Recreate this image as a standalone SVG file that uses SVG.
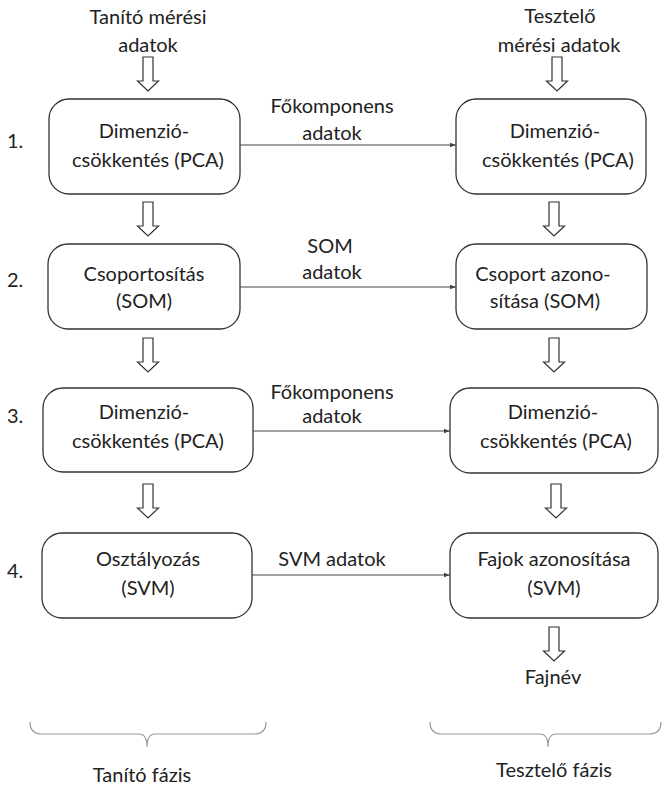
<svg xmlns="http://www.w3.org/2000/svg" width="663" height="785" viewBox="0 0 663 785">
<defs>
<style>
text{font-family:Lato,"Open Sans","Liberation Sans",sans-serif;font-size:20px;fill:#222;text-anchor:middle}
.box{fill:#fff;stroke:#333;stroke-width:1.3}
.conn{stroke:#444;stroke-width:1;fill:none}
.harrow{fill:#fff;stroke:#333;stroke-width:1.2;stroke-linejoin:miter}
.brace{fill:none;stroke:#999;stroke-width:1.2}
.num{text-anchor:start}
</style>
<marker id="ah" viewBox="0 0 8 8" refX="8" refY="4" markerWidth="6" markerHeight="6" orient="auto" markerUnits="userSpaceOnUse">
<path d="M0,1 L8,4 L0,7 Z" fill="#444"/>
</marker>
<path id="ha" d="M-5,0 H5 V24 H10.5 L0,34 L-10.5,24 H-5 Z"/>
</defs>
<rect width="663" height="785" fill="#fff"/>

<g id="input-train">
<text x="148" y="24">Tanító mérési</text>
<text x="148" y="52">adatok</text>
</g>
<g id="input-test">
<text x="560" y="23">Tesztelő</text>
<text x="559" y="52">mérési adatok</text>
</g>

<g id="numbers">
<text class="num" x="7" y="148">1.</text>
<text class="num" x="7" y="287">2.</text>
<text class="num" x="7" y="423">3.</text>
<text class="num" x="7" y="578">4.</text>
</g>

<g id="train1">
<rect class="box" x="49" y="99" width="191" height="95" rx="20"/>
<text x="144" y="138">Dimenzió-</text>
<text x="148" y="167">csökkentés (PCA)</text>
</g>
<g id="test1">
<rect class="box" x="456" y="99" width="190" height="95" rx="20"/>
<text x="555" y="138">Dimenzió-</text>
<text x="558" y="167">csökkentés (PCA)</text>
</g>
<g id="train2">
<rect class="box" x="48" y="244" width="192" height="85" rx="20"/>
<text x="144" y="281">Csoportosítás</text>
<text x="144" y="308">(SOM)</text>
</g>
<g id="test2">
<rect class="box" x="456" y="244" width="191" height="85" rx="20"/>
<text x="543" y="281">Csoport azono-</text>
<text x="545" y="308">sítása (SOM)</text>
</g>
<g id="train3">
<rect class="box" x="43" y="388" width="210" height="84" rx="20"/>
<text x="144" y="419">Dimenzió-</text>
<text x="148" y="448">csökkentés (PCA)</text>
</g>
<g id="test3">
<rect class="box" x="450" y="388" width="208" height="85" rx="20"/>
<text x="553" y="419">Dimenzió-</text>
<text x="556" y="448">csökkentés (PCA)</text>
</g>
<g id="train4">
<rect class="box" x="42" y="533" width="210" height="85" rx="20"/>
<text x="148" y="566">Osztályozás</text>
<text x="148" y="595">(SVM)</text>
</g>
<g id="test4">
<rect class="box" x="450" y="533" width="208" height="85" rx="20"/>
<text x="554" y="566">Fajok azonosítása</text>
<text x="554" y="595">(SVM)</text>
</g>
<g id="output">
<text x="553" y="684">Fajnév</text>
</g>

<g id="connectors">
<use href="#ha" class="harrow" x="148" y="57"/>
<use href="#ha" class="harrow" x="557" y="57"/>
<use href="#ha" class="harrow" x="148" y="202"/>
<use href="#ha" class="harrow" x="554" y="202"/>
<use href="#ha" class="harrow" x="148" y="338"/>
<use href="#ha" class="harrow" x="554" y="338"/>
<use href="#ha" class="harrow" x="148" y="484"/>
<use href="#ha" class="harrow" x="556" y="484"/>
<use href="#ha" class="harrow" x="554" y="627"/>
<line class="conn" x1="240" y1="145" x2="456" y2="145" marker-end="url(#ah)"/>
<line class="conn" x1="240" y1="287" x2="456" y2="287" marker-end="url(#ah)"/>
<line class="conn" x1="253" y1="431" x2="450" y2="431" marker-end="url(#ah)"/>
<line class="conn" x1="252" y1="575" x2="450" y2="575" marker-end="url(#ah)"/>
<text x="332" y="113">Főkomponens</text>
<text x="332" y="140">adatok</text>
<text x="330" y="253">SOM</text>
<text x="332" y="279">adatok</text>
<text x="332" y="399">Főkomponens</text>
<text x="332" y="423">adatok</text>
<text x="332" y="566">SVM adatok</text>
</g>

<g id="phase-train">
<path class="brace" d="M30,722 Q30,734 42,734 L139,734 Q147,734 147,747 Q147,734 155,734 L254,734 Q266,734 266,722"/>
<text x="142" y="782">Tanító fázis</text>
</g>
<g id="phase-test">
<path class="brace" d="M430,722 Q430,734 442,734 L540,734 Q548,734 548,747 Q548,734 556,734 L649,734 Q661,734 661,722"/>
<text x="554" y="777">Tesztelő fázis</text>
</g>
</svg>
